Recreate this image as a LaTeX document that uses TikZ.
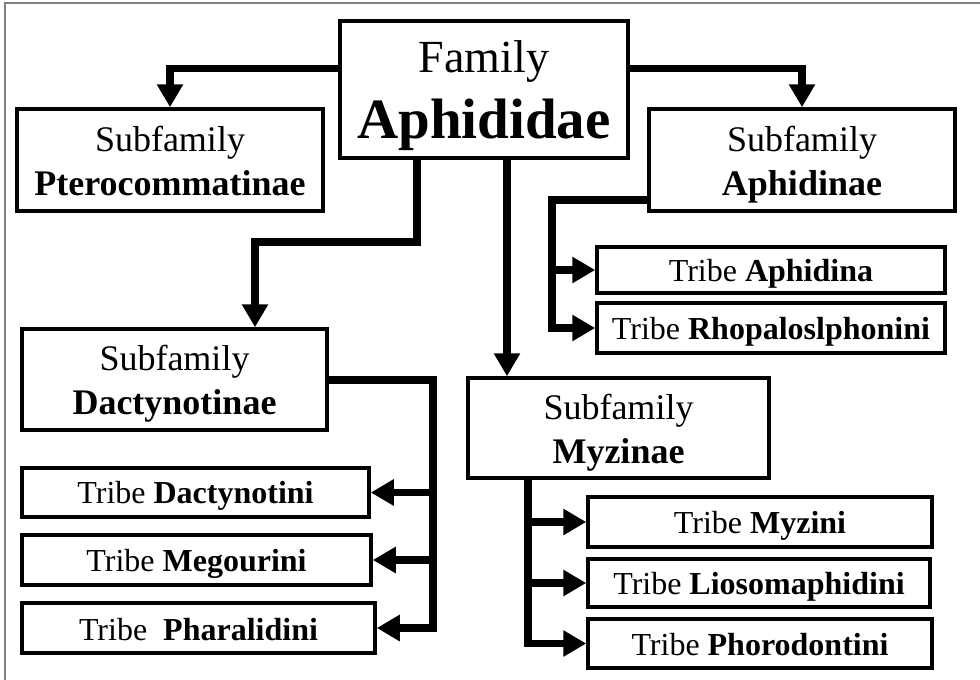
\documentclass[tikz,border=0pt]{standalone}
\usepackage{fontspec}
\setmainfont{Liberation Serif}
\usetikzlibrary{arrows.meta}

% invisible rules that fix the height of the first line and depth of the last
\newcommand{\toprule}[1]{\rule{0pt}{#1}}
\newcommand{\botrule}[1]{\rule[-#1]{0pt}{#1}}

\tikzset{
  box/.style={draw, line width=3.5pt, fill=white, inner sep=0pt, align=center, anchor=center},
  subbox/.style={box, font=\fontsize{36}{44}\selectfont},
  tribebox/.style={box, font=\fontsize{32}{36}\selectfont},
  trunk/.style={line width=7.5pt, line join=miter},
  conn/.style={trunk, -{Triangle[length=23pt,width=25pt]}},
  frameline/.style={draw=gray, line width=1.2pt}
}

\newcommand{\subtext}[1]{\toprule{35pt}Subfamily\\\textbf{#1}\botrule{9pt}}
\newcommand{\tribetext}[1]{\rule[-5.5pt]{0pt}{35pt}Tribe #1}

\begin{document}
\begin{tikzpicture}[x=1pt,y=-1pt]
\useasboundingbox (0,0) rectangle (980,680);
\fill[white] (0,0) rectangle (980,680);
\draw[frameline] (5,680) -- (5,3) -- (980,3);

% family
\node[box, minimum width=288pt, minimum height=137pt, font=\fontsize{57}{66}\selectfont] (fam) at (484,89.5)
  {\toprule{45pt}{\fontsize{46}{66}\selectfont Family}\\\textbf{Aphididae}\botrule{14pt}};

% subfamilies
\node[subbox, minimum width=306pt, minimum height=102pt] (ptero) at (170,160)
  {\subtext{Pterocommatinae}};
\node[subbox, minimum width=306pt, minimum height=102pt] (aphin) at (802,160)
  {\subtext{Aphidinae}};
\node[subbox, minimum width=305pt, minimum height=101pt] (dact) at (174.5,379.5)
  {\subtext{Dactynotinae}};
\node[subbox, minimum width=301pt, minimum height=100pt] (myz) at (618.5,428)
  {\subtext{Myzinae}};

% tribes of Aphidinae
\node[tribebox, minimum width=348pt, minimum height=46pt] (aphid) at (771,270)
  {\tribetext{\textbf{Aphidina}}};
\node[tribebox, minimum width=348pt, minimum height=50pt] (rho) at (771,328)
  {\tribetext{\textbf{Rhopaloslphonini}}};

% tribes of Dactynotinae
\node[tribebox, minimum width=347pt, minimum height=49pt] (dtini) at (195.5,492.5)
  {\tribetext{\textbf{Dactynotini}}};
\node[tribebox, minimum width=349pt, minimum height=50pt] (meg) at (196.5,560)
  {\tribetext{\textbf{Megourini}}};
\node[tribebox, minimum width=353pt, minimum height=50pt] (phar) at (198.5,628)
  {\tribetext{\ \textbf{Pharalidini}}};

% tribes of Myzinae
\node[tribebox, minimum width=344pt, minimum height=50pt] (myzini) at (760,522)
  {\tribetext{\textbf{Myzini}}};
\node[tribebox, minimum width=342pt, minimum height=48pt] (lioso) at (759,583)
  {\tribetext{\textbf{Liosomaphidini}}};
\node[tribebox, minimum width=344pt, minimum height=49pt] (phoro) at (760,643.5)
  {\tribetext{\textbf{Phorodontini}}};

% bend points of the connectors
\coordinate (famL) at ([yshift=-49pt]fam.north west);
\coordinate (famR) at ([yshift=-49pt]fam.north east);
\coordinate (d1) at (417,242);
\coordinate (d2) at (255,242);
\coordinate (m1) at (507,0);
\coordinate (a1) at (552,200);
\coordinate (b1) at (433,380);
\coordinate (c1) at (528,0);

% family to subfamilies
\draw[conn] (famL) -| (ptero.north);
\draw[conn] (famR) -| (aphin.north);
\draw[conn] (fam.south -| d1) -- (d1) -- (d2) -- (d2 |- dact.north);
\draw[conn] (fam.south -| m1) -- (m1 |- myz.north);

% Aphidinae to its tribes
\draw[conn] (aphin.west |- a1) -- (a1) |- (rho.west);
\draw[conn] (a1 |- aphid.west) -- (aphid.west);

% Dactynotinae to its tribes
\draw[conn] (dact.east |- b1) -- (b1) |- (phar.east);
\draw[conn] (b1 |- dtini.east) -- (dtini.east);
\draw[conn] (b1 |- meg.east) -- (meg.east);

% Myzinae to its tribes
\draw[conn] (myz.south -| c1) |- (phoro.west);
\draw[conn] (c1 |- myzini.west) -- (myzini.west);
\draw[conn] (c1 |- lioso.west) -- (lioso.west);
\end{tikzpicture}
\end{document}
